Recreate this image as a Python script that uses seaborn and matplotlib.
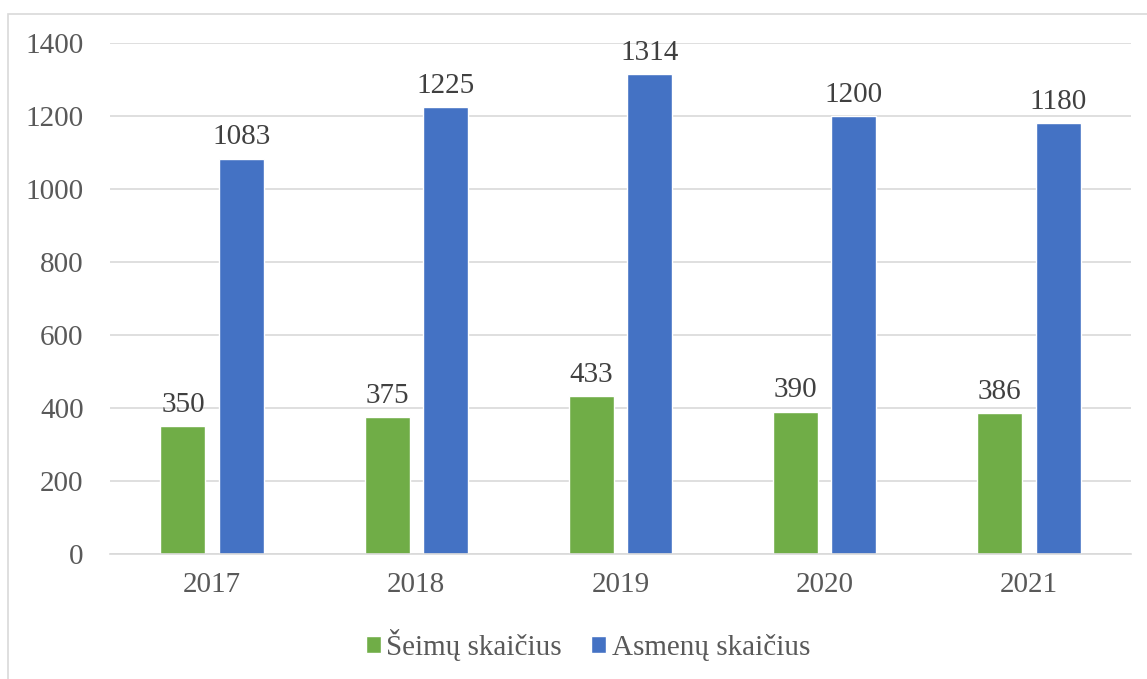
import matplotlib
matplotlib.use("Agg")
import matplotlib.pyplot as plt
import seaborn as sns
import pandas as pd
from matplotlib.patches import Rectangle

years = ["2017", "2018", "2019", "2020", "2021"]
seimu = [350, 375, 433, 390, 386]
asmenu = [1083, 1225, 1314, 1200, 1180]
series_names = ["Šeimų skaičius", "Asmenų skaičius"]
colors = ["#70AD47", "#4472C4"]

df = pd.DataFrame({
    "Metai": years * 2,
    "Reikšmė": seimu + asmenu,
    "Serija": [series_names[0]] * len(years) + [series_names[1]] * len(years),
})

sns.set_theme(style="white")
plt.rcParams['font.family'] = ['Liberation Serif', 'DejaVu Serif']

W, H = 1147, 679
fig = plt.figure(figsize=(W / 100, H / 100), dpi=100)
ax = fig.add_axes([110 / W, 1 - 554 / H, (1131 - 110) / W, (554 - 43) / H])

sns.barplot(data=df, x="Metai", y="Reikšmė", hue="Serija", palette=colors,
            width=0.572, gap=0.23, ax=ax, legend=True, saturation=1)

ax.set_ylim(0, 1400)
ax.set_yticks(range(0, 1401, 200))
ax.set_xlim(-0.5, 4.5)
ax.yaxis.grid(True, color="#D9D9D9", linewidth=1.2)
ax.set_axisbelow(True)
for s in ["top", "right", "left"]:
    ax.spines[s].set_visible(False)
ax.spines["bottom"].set_color("#D9D9D9")
ax.spines["bottom"].set_linewidth(1.2)
ax.set_xlabel("")
ax.set_ylabel("")
ax.tick_params(axis="both", labelsize=21, labelcolor="#595959", length=0)
ax.tick_params(axis="y", pad=19)
ax.tick_params(axis="x", pad=13)

for cont in ax.containers:
    ax.bar_label(cont, fmt="%d", padding=6, fontsize=21, color="#404040")

handles, labels = ax.get_legend_handles_labels()
ax.legend_.remove()
fig.legend(handles, labels, loc="center", bbox_to_anchor=(588 / W, 1 - 645 / H),
           ncol=2, frameon=False, fontsize=21, labelcolor="#595959",
           handlelength=0.5, handleheight=0.5, handletextpad=0.2, columnspacing=1.0)

fig.patches.append(Rectangle((8 / W, -0.02), 1.05, 1 - 14 / H + 0.02, transform=fig.transFigure,
                             fill=False, edgecolor="#D9D9D9", linewidth=1.2))

fig.savefig("out.png", dpi=100)
